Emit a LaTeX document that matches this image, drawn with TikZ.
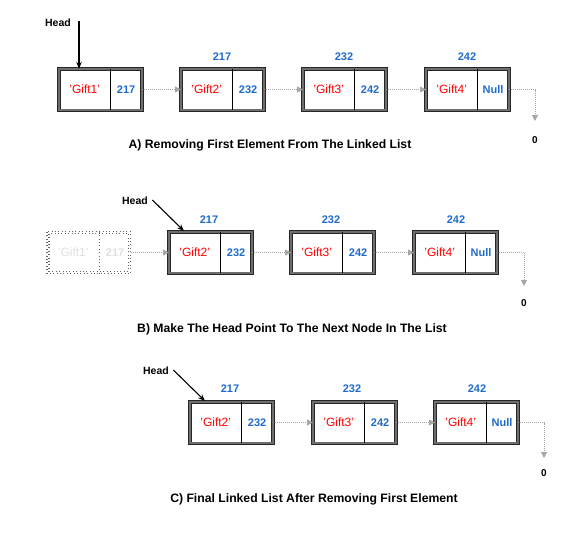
\documentclass[tikz,border=0pt]{standalone}
\usepackage{fontspec}
\setmainfont{Liberation Sans}
\usetikzlibrary{arrows.meta}
\definecolor{numblue}{HTML}{1F6BCB}
\definecolor{giftred}{HTML}{FF0000}
\definecolor{arrgray}{HTML}{A6A6A6}
\definecolor{framegray}{HTML}{6E6E6E}
\newcommand\sq{\char39\relax}
\newcommand\llnode[5]{%
  \node[datacell, anchor=west] (#1d) at (#2,#3) {\sq#4\sq};
  \node[ptrcell, anchor=west] (#1p) at (#1d.east) {#5};
  \draw[boxframe] (#1d.north west) rectangle (#1p.south east);
  \draw[divider] (#1d.north east) -- (#1d.south east);
}
\begin{document}
\begin{tikzpicture}[x=1pt,y=-1pt,
  cell/.style={minimum height=41pt, inner sep=0pt},
  datacell/.style={cell, minimum width=51pt, text=giftred, font=\fontsize{12}{14}\selectfont},
  ptrcell/.style={cell, minimum width=31pt, text=numblue, font=\bfseries\fontsize{11}{13}\selectfont},
  boxframe/.style={draw=black!85, line width=0.8pt, double=framegray, double distance=1.8pt},
  divider/.style={draw=black, line width=0.9pt},
  ghostframe/.style={draw=gray!80!black, line width=1.1pt, dash pattern=on 1pt off 2.4pt},
  ghostdata/.style={cell, minimum width=52pt, text=gray!25, font=\fontsize{12}{14}\selectfont},
  ghostptr/.style={cell, minimum width=31pt, text=gray!25, font=\bfseries\fontsize{11}{13}\selectfont},
  addr/.style={text=numblue, font=\bfseries\fontsize{11}{13}\selectfont},
  zero/.style={font=\bfseries\fontsize{10}{12}\selectfont},
  headlbl/.style={font=\bfseries\fontsize{10.5}{12}\selectfont},
  caption/.style={font=\bfseries\fontsize{12.2}{14}\selectfont},
  link/.style={draw=arrgray, line width=1pt, dash pattern=on 1pt off 1pt, -{Triangle[length=6pt,width=6pt,fill=arrgray,sep=0pt]}},
  headarrow/.style={draw=black, line width=1.1pt, -{Stealth[length=7pt,width=5.5pt]}}
]
\useasboundingbox (0,0) rectangle (571,533);

% ---------- Row A ----------
\llnode{a1}{59}{89.5}{Gift1}{217}
\llnode{a2}{181}{89.5}{Gift2}{232}
\llnode{a3}{303}{89.5}{Gift3}{242}
\llnode{a4}{426}{89.5}{Gift4}{Null}
\node[addr] (la2) at (222,57) {217};
\node[addr] (la3) at (344,57) {232};
\node[addr] (la4) at (467,57) {242};
\draw[link] (a1p.east) -- (a2d.west);
\draw[link] (a2p.east) -- (a3d.west);
\draw[link] (a3p.east) -- (a4d.west);
\coordinate (a0end) at (535,121);
\draw[link] (a4p.east) -| (a0end);
\node[zero] (a0) at (535,140) {0};
\node[headlbl] (ha) at (58,23) {Head};
\coordinate (hastart) at (79,21);
\draw[headarrow] (hastart) -- (hastart |- a1d.north);
\node[caption] (capa) at (270,145) {A) Removing First Element From The Linked List};

% ---------- Row B ----------
\node[ghostdata, anchor=west] (g1d) at (47,252.5) {\sq Gift1\sq};
\node[ghostptr, anchor=west] (g1p) at (g1d.east) {217};
\draw[ghostframe] (g1d.north west) rectangle (g1p.south east);
\draw[ghostframe] ([shift={(2pt,-2pt)}]g1d.north west) rectangle ([shift={(-2pt,2pt)}]g1p.south east);
\draw[ghostframe] (g1d.north east) -- (g1d.south east);
\llnode{b2}{169}{252.5}{Gift2}{232}
\llnode{b3}{291}{252.5}{Gift3}{242}
\llnode{b4}{414}{252.5}{Gift4}{Null}
\node[addr] (lb2) at (209,220) {217};
\node[addr] (lb3) at (331,220) {232};
\node[addr] (lb4) at (456,220) {242};
\draw[link] (g1p.east) -- (b2d.west);
\draw[link] (b2p.east) -- (b3d.west);
\draw[link] (b3p.east) -- (b4d.west);
\coordinate (b0end) at (524,286);
\draw[link] (b4p.east) -| (b0end);
\node[zero] (b0) at (524,303) {0};
\node[headlbl] (hb) at (135,201) {Head};
\coordinate (hbend) at (184,231);
\draw[headarrow] (hb.east) ++(1,-1) -- (hbend);
\node[caption] (capb) at (292,329) {B) Make The Head Point To The Next Node In The List};

% ---------- Row C ----------
\llnode{c2}{190}{422.5}{Gift2}{232}
\llnode{c3}{313}{422.5}{Gift3}{242}
\llnode{c4}{435}{422.5}{Gift4}{Null}
\node[addr] (lc2) at (230,389) {217};
\node[addr] (lc3) at (352,389) {232};
\node[addr] (lc4) at (477,389) {242};
\draw[link] (c2p.east) -- (c3d.west);
\draw[link] (c3p.east) -- (c4d.west);
\coordinate (c0end) at (544,458);
\draw[link] (c4p.east) -| (c0end);
\node[zero] (c0) at (544,473) {0};
\node[headlbl] (hc) at (156,371) {Head};
\coordinate (hcend) at (205,401);
\draw[headarrow] (hc.east) ++(1,-1) -- (hcend);
\node[caption] (capc) at (314,499) {C) Final Linked List After Removing First Element};
\end{tikzpicture}
\end{document}
